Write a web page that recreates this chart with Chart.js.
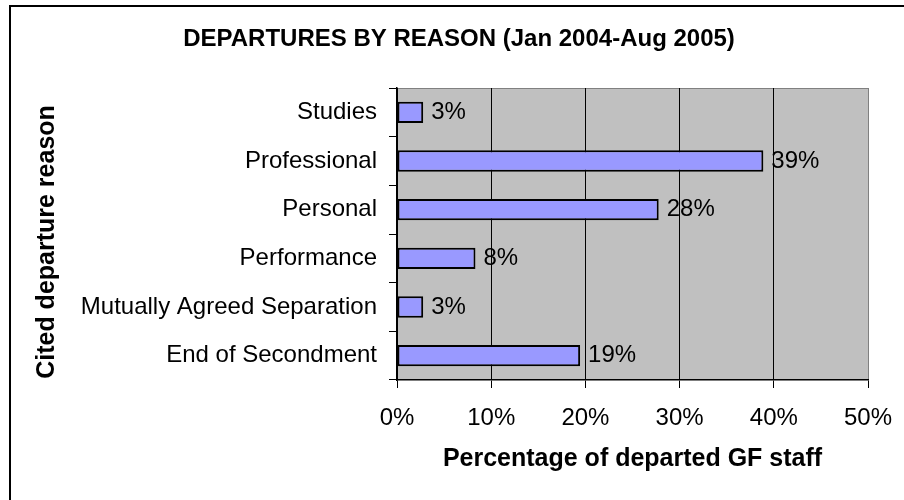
<!DOCTYPE html>
<html>
<head>
<meta charset="utf-8">
<title>Departures by reason</title>
<script src="https://cdn.jsdelivr.net/npm/chart.js@4/dist/chart.umd.min.js"></script>
<style>
  html, body { margin: 0; padding: 0; background: #fff; }
  #wrap { width: 904px; height: 500px; }
</style>
</head>
<body>
<div id="wrap"><canvas id="reasonChart" width="904" height="500"></canvas></div>
<script>
// Departed GF staff, Jan 2004 - Aug 2005 (share of departures, %)
const reasons = [
    'Studies',
    'Professional',
    'Personal',
    'Performance',
    'Mutually Agreed Separation',
    'End of Secondment'
];
const shares = [2.78, 38.89, 27.78, 8.33, 2.78, 19.44];
const percentTicks = [0, 10, 20, 30, 40, 50];
const chartTitle = 'DEPARTURES BY REASON (Jan 2004-Aug 2005)';
const reasonAxisTitle = 'Cited departure reason';

const FONT = '"Liberation Sans", Arial, Helvetica, sans-serif';

// grey plot area, frame lines, heading and the rotated axis title
const plotBackground = {
    id: 'plotBackground',
    beforeDraw: function(chart) {
        const ctx = chart.ctx;
        const a = chart.chartArea;
        ctx.save();
        ctx.fillStyle = '#C0C0C0';
        ctx.fillRect(a.left, a.top, a.right - a.left, a.bottom - a.top);
        ctx.strokeStyle = '#808080';
        ctx.lineWidth = 1;
        ctx.beginPath();
        ctx.moveTo(a.left, a.top + 0.5);
        ctx.lineTo(a.right + 0.5, a.top + 0.5);
        ctx.lineTo(a.right + 0.5, a.bottom);
        ctx.stroke();

        ctx.strokeStyle = '#000';
        ctx.lineWidth = 2;
        ctx.beginPath();
        ctx.moveTo(10, chart.height);
        ctx.lineTo(10, 6);
        ctx.lineTo(chart.width, 6);
        ctx.stroke();

        ctx.fillStyle = '#000';
        ctx.font = 'bold 24px ' + FONT;
        ctx.textAlign = 'center';
        ctx.textBaseline = 'middle';
        ctx.fillText(chartTitle, 459, 39);

        ctx.font = 'bold 25px ' + FONT;
        ctx.translate(47, 242);
        ctx.rotate(-Math.PI / 2);
        ctx.fillText(reasonAxisTitle, 0, 0);
        ctx.restore();
    }
};

// value labels to the right of each bar
const barValueLabels = {
    id: 'barValueLabels',
    afterDatasetsDraw: function(chart) {
        const ctx = chart.ctx;
        const meta = chart.getDatasetMeta(0);
        ctx.save();
        ctx.font = '24px ' + FONT;
        ctx.fillStyle = '#000';
        ctx.textAlign = 'left';
        ctx.textBaseline = 'middle';
        meta.data.forEach(function(bar, i) {
            ctx.fillText(Math.round(shares[i]) + '%', bar.x + 8, bar.y);
        });
        ctx.restore();
    }
};

new Chart(document.getElementById('reasonChart'), {
    type: 'bar',
    data: {
        labels: reasons,
        datasets: [{
            data: shares,
            backgroundColor: '#9999FF',
            borderColor: '#000',
            borderWidth: 2,
            borderSkipped: false,
            categoryPercentage: 1,
            barPercentage: 0.44
        }]
    },
    options: {
        indexAxis: 'y',
        responsive: false,
        animation: false,
        layout: {
            padding: { left: 9, right: 36, top: 88, bottom: 0 }
        },
        scales: {
            x: {
                min: 0,
                max: 50,
                afterBuildTicks: function(scale) {
                    scale.ticks = percentTicks.map(function(v) { return { value: v }; });
                },
                afterFit: function(scale) {
                    scale.height = 120;
                    // the outer padding already leaves room for the end labels
                    scale.paddingLeft = 0;
                    scale.paddingRight = 0;
                },
                ticks: {
                    color: '#000',
                    padding: 16,
                    font: { family: FONT, size: 24 },
                    callback: function(v) { return v + '%'; }
                },
                grid: {
                    color: function(c) { return c.tick && c.tick.value === 50 ? '#808080' : '#000'; },
                    tickColor: '#000',
                    tickLength: 8,
                    lineWidth: 1
                },
                border: { color: '#000', width: 1.5 },
                title: {
                    display: true,
                    text: 'Percentage of departed GF staff',
                    color: '#000',
                    font: { family: FONT, size: 25, weight: 'bold' },
                    padding: { top: 0, bottom: 26 }
                }
            },
            y: {
                afterFit: function(scale) {
                    scale.width = 388;
                },
                ticks: {
                    color: '#000',
                    padding: 12,
                    font: { family: FONT, size: 24 }
                },
                grid: {
                    drawOnChartArea: false,
                    tickColor: '#000',
                    tickLength: 8,
                    offset: true
                },
                border: { color: '#000', width: 1.5 }
            }
        },
        plugins: {
            legend: { display: false },
            tooltip: { enabled: false },
            title: { display: false }
        }
    },
    plugins: [plotBackground, barValueLabels]
});
</script>
</body>
</html>
